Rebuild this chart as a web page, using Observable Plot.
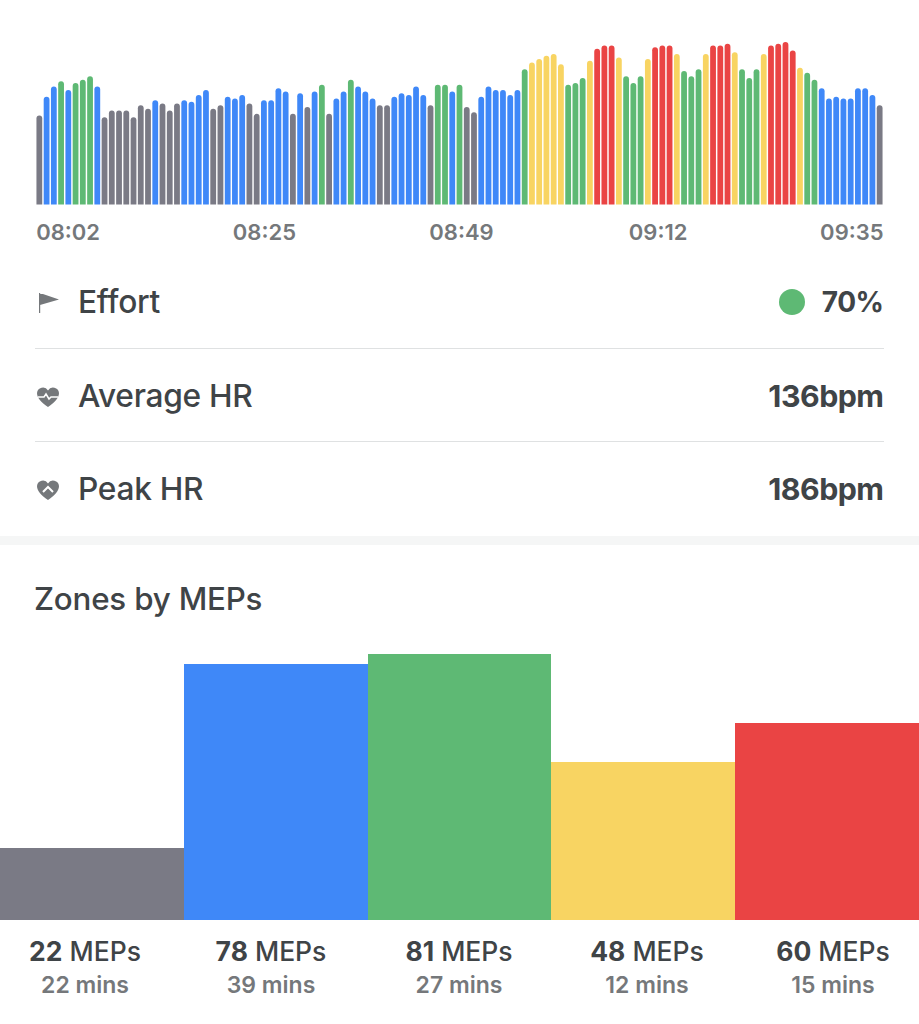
<!DOCTYPE html>
<html><head><meta charset="utf-8">
<script src="https://cdn.jsdelivr.net/npm/d3@7"></script>
<script src="https://cdn.jsdelivr.net/npm/@observablehq/plot@0.6"></script>
<style>
html,body{margin:0;padding:0;background:#fff;}
body{width:919px;height:1024px;position:relative;overflow:hidden;font-family:"Inter","Noto Sans",sans-serif;color:#3f4447;}
#hr,#zones{position:absolute;left:0;}
#hr{top:0}
#zones{top:640px}
svg{display:block}
.t{position:absolute;white-space:nowrap;line-height:1;}
.row{font-size:31.700px;font-weight:500;letter-spacing:-.3px;}
.val{font-size:30.300px;font-weight:700;right:35.500px;letter-spacing:-.5px;}
.rule{position:absolute;left:35px;width:849px;height:1px;background:#dfe1e2;}
.band{position:absolute;left:0;width:919px;top:536px;height:9px;background:#f5f6f6;}
.dot{position:absolute;left:779px;top:289px;width:26px;height:26px;border-radius:50%;background:#5eb974;}
.ic{position:absolute;left:36px;}
.lab{position:absolute;width:184px;text-align:center;line-height:1;}
.lab b{font-weight:700}
.m{font-size:26.500px;top:938px;font-weight:500;}
.s{font-size:23px;top:974px;color:#75787b;font-weight:600;}
</style></head><body>
<div id="hr"></div>
<div class="t row" style="left:78px;top:286px">Effort</div>
<div class="t row" style="left:78px;top:380px">Average HR</div>
<div class="t row" style="left:78px;top:473px">Peak HR</div>
<div class="dot"></div>
<div class="t val" style="top:288px;font-size:28px">70%</div>
<div class="t val" style="top:381px">136bpm</div>
<div class="t val" style="top:474px">186bpm</div>
<div class="rule" style="top:348px"></div>
<div class="rule" style="top:441px"></div>
<div class="band"></div>
<svg class="ic" style="top:290px" width="24" height="24" viewBox="0 0 24 24"><path d="M3 3h1.200v20H3zM4 3l19 6.500L4 15z" fill="#75787b"/></svg>
<svg class="ic" style="top:385px" width="24" height="24" viewBox="0 0 24 24"><path d="M12 22C5 17 1 13 1 8a6 6 0 0 1 11-2.600A6 6 0 0 1 23 8c0 5-4 9-11 14z" fill="#75787b"/><path d="M2 12h6l2-3 3 5 2-2h7" fill="none" stroke="#fff" stroke-width="1.500"/></svg>
<svg class="ic" style="top:478px" width="24" height="24" viewBox="0 0 24 24"><path d="M12 22C5 17 1 13 1 8a6 6 0 0 1 11-2.600A6 6 0 0 1 23 8c0 5-4 9-11 14z" fill="#75787b"/><path d="M7 14l5-5 5 5" fill="none" stroke="#fff" stroke-width="2"/></svg>
<div class="t" style="left:34px;top:584px;font-size:31.300px;font-weight:500;letter-spacing:-.2px">Zones by MEPs</div>
<div id="zones"></div>
<div id="labs"></div>
<script>
const heartRate = [
143,154,160,163,158,162,164,166,160,142,146,146,146,142,149,147,152,150,146,150,152,151,155,158,147,149,154,153,155,150,144,152,152,159,157,144,156,148,
157,161,144,153,157,164,160,157,153,149,149,154,156,155,160,155,149,161,161,157,161,148,145,154,160,158,158,155,158,170,174,176,178,179,173,161,162,165,175,182,
184,184,177,166,162,166,176,183,184,184,179,169,166,170,179,184,184,185,180,170,165,170,179,184,185,186,181,171,168,164,159,153,154,153,153,159,159,155,149];
const zoneThresholds = [151,161,171,181];
const zoneColors = ["#7a7a85","#3f88f8","#5eb974","#f8d462","#ea4444"];
const baseBpm = 91;
const tickIndex = [0,31,58,85,116];
const tickLabels = ["08:02","08:25","08:49","09:12","09:35"];
const tickAnchors = ["start","middle","middle","middle","end"];
const tickNudges = [-3.600,0,1.500,2.500,3.400];
const zoneMeps = [22,78,81,48,60];
const zoneMins = [22,39,27,12,15];
const labelCenters = [85,271,459,647,833];

const bars = heartRate.map((bpm,i)=>({i,bpm}));
const ticks = tickIndex.map((i,k)=>({i,label:tickLabels[k]}));

const hr = Plot.plot({
  width:919,height:255,marginLeft:35,marginRight:35,marginTop:42,marginBottom:50.5,
  x:{type:"band",domain:d3.range(heartRate.length),padding:0.2,round:false,axis:null},
  y:{domain:[baseBpm,186],axis:null},
  color:{type:"threshold",domain:zoneThresholds,range:zoneColors},
  marks:[
    Plot.rectY(bars,{x:"i",y1:()=>baseBpm-4,y2:"bpm",fill:d=>d.bpm,rx:3,ry:3,clip:"frame"}),
    ...ticks.map((t,k)=>Plot.text([t],{x:"i",text:"label",frameAnchor:"bottom",lineAnchor:"bottom",dy:34.500,dx:tickNudges[k],textAnchor:tickAnchors[k],fontSize:22,fontWeight:600,fill:"#75787b",fontFamily:"Inter, 'Noto Sans', sans-serif"}))
  ]
});
document.getElementById("hr").append(hr);

const zoneData = zoneMeps.map((m,i)=>({i,m}));
const zones = Plot.plot({
  width:919,height:280,margin:0,
  x:{type:"band",domain:d3.range(zoneMeps.length),padding:0,round:false,axis:null},
  y:{domain:[0,81],range:[280,14],axis:null},
  marks:[Plot.barY(zoneData,{x:"i",y:"m",fill:d=>zoneColors[d.i],shapeRendering:"crispEdges"})]
});
document.getElementById("zones").append(zones);

const labs = document.getElementById("labs");
zoneMeps.forEach((m,i)=>{
  const l=labelCenters[i]-92;
  labs.insertAdjacentHTML("beforeend",`<div class="lab m" style="left:${l}px"><b>${m}</b> MEPs</div><div class="lab s" style="left:${l}px">${zoneMins[i]} mins</div>`);
});
</script>
</body></html>
